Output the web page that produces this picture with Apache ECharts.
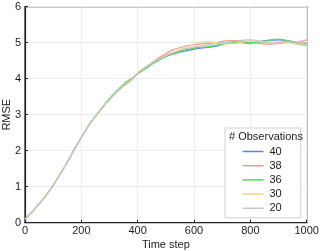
<!DOCTYPE html>
<html><head><meta charset="utf-8">
<script src="https://cdn.jsdelivr.net/npm/echarts@6/dist/echarts.min.js"></script>
<style>html,body{margin:0;padding:0;background:#fff}#c{width:320px;height:251px}</style>
</head><body><div id="c"></div>
<script>
var timeSteps = [0,25,50,75,100,125,150,175,200,225,250,275,300,325,350,375,400,425,450,475,500,525,550,575,600,625,650,675,700,725,750,775,800,825,850,875,900,925,950,975,1000];
var seriesNames = ['40','38','36','30','20'];
var rmse40 = [0.10,0.30,0.52,0.76,1.04,1.35,1.68,2.03,2.37,2.69,2.95,3.20,3.43,3.63,3.81,3.95,4.15,4.27,4.41,4.52,4.62,4.68,4.74,4.78,4.82,4.85,4.87,4.90,4.95,5.00,5.02,5.00,4.99,5.02,5.05,5.07,5.08,5.06,5.03,5.00,4.98];
var rmse38 = [0.10,0.30,0.52,0.76,1.04,1.35,1.68,2.03,2.37,2.69,2.95,3.20,3.42,3.62,3.79,3.94,4.14,4.29,4.44,4.58,4.70,4.80,4.86,4.91,4.94,4.97,4.98,5.00,5.04,5.06,5.06,5.03,5.00,4.99,4.97,4.96,4.98,5.00,5.00,5.03,5.08];
var rmse36 = [0.10,0.30,0.52,0.76,1.04,1.35,1.68,2.03,2.37,2.69,2.96,3.21,3.45,3.66,3.85,3.99,4.14,4.26,4.40,4.51,4.62,4.69,4.76,4.81,4.85,4.87,4.89,4.92,4.96,5.00,5.01,5.00,5.00,5.01,5.04,5.08,5.10,5.07,5.02,4.96,4.92];
var rmse30 = [0.10,0.30,0.52,0.76,1.04,1.35,1.68,2.02,2.36,2.68,2.94,3.19,3.42,3.62,3.80,3.95,4.16,4.30,4.43,4.54,4.64,4.72,4.80,4.87,4.95,5.02,5.03,5.00,4.98,4.97,4.98,5.02,5.05,5.03,5.00,4.98,5.00,5.02,4.98,4.94,4.94];
var rmse20 = [0.10,0.30,0.52,0.76,1.04,1.35,1.68,2.03,2.37,2.69,2.95,3.20,3.43,3.63,3.81,3.96,4.17,4.31,4.44,4.55,4.65,4.72,4.79,4.84,4.88,4.91,4.94,4.97,5.00,5.02,5.04,5.07,5.08,5.06,5.03,5.01,5.02,5.03,5.02,5.00,5.00];
var xTicks = [0,200,400,600,800,1000];
var yTicks = [0,1,2,3,4,5,6];
var colors = ['#5b80f5','#f79393','#5cd65c','#ebd28e','#c6c6c6'];

function pairs(vals){ return timeSteps.map(function(t,i){ return [t, vals[i]]; }); }
var allVals = [rmse40, rmse38, rmse36, rmse30, rmse20];

var chart = echarts.init(document.getElementById('c'), null, {renderer:'canvas'});
var font = 'Liberation Sans, Arial, sans-serif';
chart.setOption({
  animation:false,
  backgroundColor:'#fff',
  color: colors,
  title:{text:'# Observations', left:229, top:131, textStyle:{fontSize:11, fontWeight:'normal', color:'#222', fontFamily:font}, padding:0, z:10},
  legend:{
    data: seriesNames.map(function(n){return {name:n, icon:'rect'};}),
    orient:'vertical', left:225, top:128,
    padding:[17,19,3,17.5],
    itemWidth:21, itemHeight:1.5, itemGap:1.2,
    backgroundColor:'#fff', borderColor:'#d0d0d0', borderWidth:1,
    textStyle:{fontSize:11, color:'#222', fontFamily:font, lineHeight:13, padding:[0,0,0,1]}
  },
  grid:{left:25, right:13.3, top:6.7, bottom:28.3, show:true, borderColor:'#222', borderWidth:1.2, containLabel:false, outerBoundsMode:'none'},
  xAxis:{type:'value', min:0, max:1000, interval:200,
    name:'Time step', nameLocation:'middle', nameGap:16.5, nameMoveOverlap:false,
    nameTextStyle:{fontSize:11, color:'#222', fontFamily:font},
    axisLine:{show:true, lineStyle:{color:'#222', width:1.2}},
    axisTick:{show:true, inside:true, length:3, lineStyle:{color:'#222'}},
    axisLabel:{fontSize:11, color:'#222', margin:3, fontFamily:font, formatter:function(v){return xTicks.indexOf(v)>=0?String(v):'';}},
    splitLine:{show:true, lineStyle:{color:'#ececec', width:1}}
  },
  yAxis:{type:'value', min:0, max:6, interval:1,
    name:'RMSE', nameLocation:'middle', nameGap:13, nameMoveOverlap:false,
    nameTextStyle:{fontSize:11, color:'#222', fontFamily:font},
    axisLine:{show:true, lineStyle:{color:'#222', width:1.2}},
    axisTick:{show:true, inside:true, length:3, lineStyle:{color:'#222'}},
    axisLabel:{fontSize:11, color:'#222', margin:4, fontFamily:font, formatter:function(v){return yTicks.indexOf(v)>=0?String(v):'';}},
    splitLine:{show:true, lineStyle:{color:'#ececec', width:1}}
  },
  series: seriesNames.map(function(n,i){
    return {name:n, type:'line', data:pairs(allVals[i]), smooth:0.4, showSymbol:false, symbol:'none',
      lineStyle:{width:1.2, color:colors[i]}, itemStyle:{color:colors[i]}};
  })
});
</script></body></html>
